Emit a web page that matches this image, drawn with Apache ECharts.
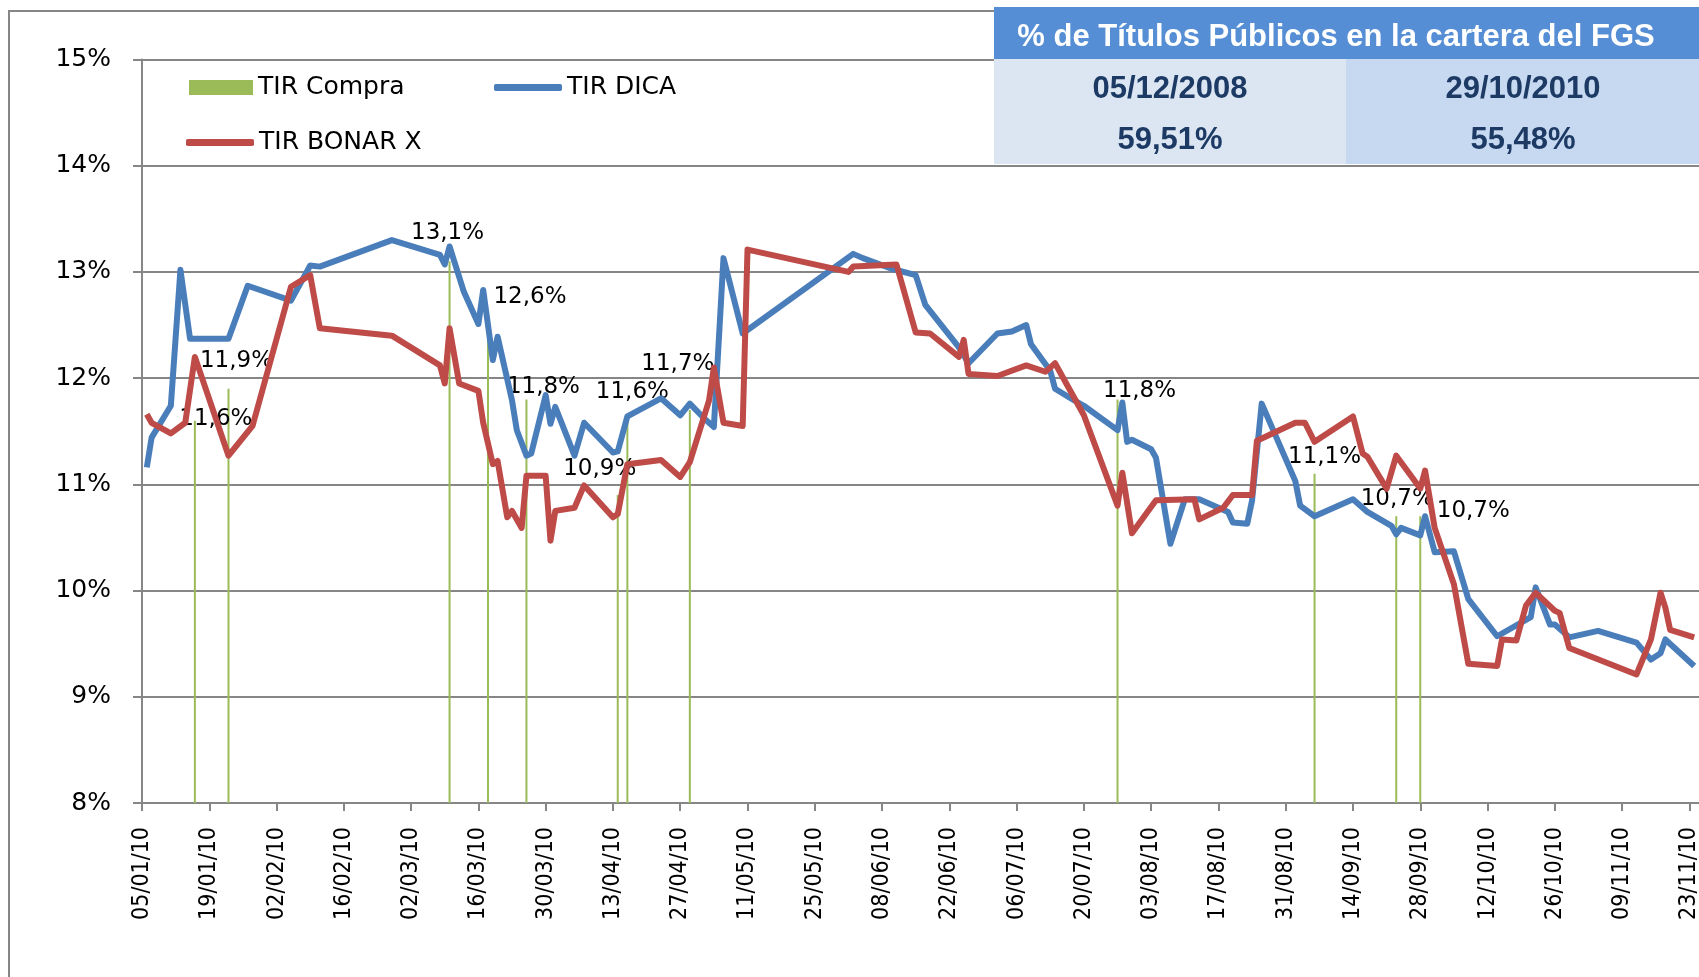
<!DOCTYPE html>
<html>
<head>
<meta charset="utf-8">
<script src="https://cdn.jsdelivr.net/npm/echarts@6/dist/echarts.min.js"></script>
<style>
  html, body { margin: 0; padding: 0; background: #fff; }
  #chart { width: 1699px; height: 977px; }
</style>
</head>
<body>
<div id="chart"></div>
<script>
// Fechas dd/mm (año 2010) y TIR en %
const dicaDates = ['06/01','07/01','11/01','13/01','15/01','23/01','27/01','05/02','09/02','11/02','26/02',
  '08/03','09/03','10/03','13/03','16/03','17/03','19/03','20/03','23/03','24/03','26/03','27/03','30/03','31/03',
  '01/04','05/04','07/04','13/04','14/04','16/04','23/04','27/04','29/04','02/05','04/05','06/05','10/05',
  '02/06','04/06','10/06','15/06','17/06','24/06','26/06','02/07','05/07','08/07','09/07','13/07','14/07','18/07','20/07',
  '27/07','28/07','29/07','30/07','03/08','04/08','07/08','10/08','13/08','19/08','20/08','23/08','24/08','26/08',
  '02/09','03/09','06/09','14/09','17/09','22/09','23/09','24/09','28/09','29/09','01/10','05/10','08/10','14/10',
  '21/10','22/10','25/10','26/10','29/10','04/11','12/11','15/11','17/11','18/11','24/11'];
const dicaValues = [11.16,11.44,11.74,13.02,12.37,12.37,12.87,12.73,13.06,13.05,13.30,
  13.16,13.07,13.24,12.81,12.51,12.83,12.17,12.39,11.79,11.51,11.27,11.29,11.84,11.57,
  11.73,11.27,11.58,11.30,11.31,11.64,11.81,11.65,11.76,11.62,11.54,13.13,12.42,
  13.17,13.13,13.03,12.97,12.69,12.29,12.14,12.42,12.44,12.50,12.32,12.07,11.90,11.79,11.74,
  11.51,11.77,11.40,11.42,11.33,11.25,10.44,10.86,10.86,10.74,10.64,10.63,10.85,11.76,
  11.03,10.80,10.70,10.86,10.74,10.61,10.53,10.59,10.52,10.70,10.36,10.37,9.92,9.57,
  9.75,10.03,9.68,9.68,9.56,9.62,9.51,9.35,9.41,9.54,9.29];

const bonarDates = ['06/01','07/01','11/01','14/01','16/01','23/01','28/01','05/02','09/02','11/02','26/02',
  '08/03','09/03','10/03','12/03','16/03','17/03','19/03','20/03','22/03','23/03','25/03','26/03','30/03','31/03',
  '01/04','05/04','07/04','13/04','14/04','16/04','23/04','27/04','29/04','03/05','04/05','06/05','10/05','11/05',
  '01/06','02/06','11/06','15/06','18/06','24/06','25/06','26/06','02/07','08/07','12/07','14/07','20/07',
  '27/07','28/07','30/07','04/08','12/08','13/08','18/08','20/08','24/08','25/08',
  '02/09','04/09','06/09','14/09','16/09','17/09','21/09','23/09','28/09','29/09','01/10','05/10','08/10',
  '14/10','15/10','18/10','20/10','22/10','26/10','27/10','29/10','12/11','15/11','17/11','18/11','19/11','24/11'];
const bonarValues = [11.66,11.58,11.48,11.58,12.20,11.27,11.55,12.86,12.97,12.47,12.40,
  12.12,11.95,12.47,11.95,11.88,11.58,11.19,11.22,10.69,10.75,10.59,11.08,11.08,10.47,
  10.75,10.78,10.99,10.69,10.72,11.19,11.23,11.07,11.21,11.79,12.10,11.58,11.55,13.21,
  13.00,13.05,13.07,12.43,12.42,12.20,12.36,12.04,12.02,12.12,12.06,12.14,11.65,
  10.80,11.11,10.54,10.85,10.86,10.67,10.78,10.90,10.90,11.41,
  11.58,11.58,11.40,11.64,11.29,11.26,10.96,11.27,10.96,11.13,10.59,10.06,9.31,
  9.29,9.54,9.53,9.86,9.98,9.81,9.79,9.46,9.21,9.54,9.98,9.84,9.63,9.56];

const compraDates = ['16/01','23/01','10/03','18/03','26/03','14/04','16/04','29/04','27/07','06/09','23/09','28/09'];
const compraValues = [11.6, 11.9, 13.1, 12.6, 11.8, 10.9, 11.6, 11.7, 11.8, 11.1, 10.7, 10.7];
// posición de cada etiqueta respecto del extremo de la barra (px)
const compraLabelPos = [[21,-2],[8,-28],[-2,-28],[42,-17],[17,-12],[-18,-26],[5,-29],[-12,-46],[22,-8],[10,-17],[1,-17],[53,-5]];

const tablaTitulo = '% de Títulos Públicos en la cartera del FGS';
const tablaFechas = ['05/12/2008', '29/10/2010'];
const tablaValores = ['59,51%', '55,48%'];

const yTicks = { min: 8, max: 15, step: 1 };

const BASE = Date.UTC(2010, 0, 5);
const DAY = 86400000;
const toDay = s => {
  const [d, m] = s.split('/').map(Number);
  return (Date.UTC(2010, m - 1, d) - BASE) / DAY;
};
const pad = n => String(n).padStart(2, '0');
const dayLabel = v => {
  const dt = new Date(BASE + v * DAY);
  return pad(dt.getUTCDate()) + '/' + pad(dt.getUTCMonth() + 1) + '/' + String(dt.getUTCFullYear()).slice(2);
};

const FONT = 'DejaVu Sans';
const GRAY = '#868686';

const chart = echarts.init(document.getElementById('chart'));

const option = {
  animation: false,
  backgroundColor: '#fff',
  grid: { left: 142, right: 0, top: 59.5, bottom: 174, outerBoundsMode: 'none', containLabel: false },
  legend: [
    { data: ['TIR Compra'], left: 184, top: 70, icon: 'rect', itemWidth: 64, itemHeight: 15, selectedMode: false,
      textStyle: { fontFamily: FONT, fontSize: 25, color: '#000' } },
    { data: ['TIR DICA'], left: 489, top: 70, icon: 'roundRect', itemWidth: 68, itemHeight: 7, selectedMode: false,
      textStyle: { fontFamily: FONT, fontSize: 25, color: '#000' } },
    { data: ['TIR BONAR X'], left: 181, top: 125, icon: 'roundRect', itemWidth: 68, itemHeight: 7, selectedMode: false,
      textStyle: { fontFamily: FONT, fontSize: 25, color: '#000' } }
  ],
  xAxis: {
    type: 'value', min: 0, max: 324, interval: 14,
    axisLine: { show: true, onZero: false, lineStyle: { color: GRAY, width: 2 } },
    axisTick: { show: true, length: 8, lineStyle: { color: GRAY, width: 2 } },
    splitLine: { show: false },
    axisLabel: {
      rotate: 90, margin: 24, fontFamily: '"DejaVu Sans Condensed", "DejaVu Sans"', fontSize: 23, color: '#000', showMaxLabel: false,
      formatter: v => (v % 14 === 0 ? dayLabel(v) : '')
    }
  },
  yAxis: {
    type: 'value', min: yTicks.min, max: yTicks.max, interval: yTicks.step,
    axisLine: { show: true, lineStyle: { color: GRAY, width: 2 } },
    axisTick: { show: true, length: 9, lineStyle: { color: GRAY, width: 2 } },
    splitLine: { show: true, lineStyle: { color: GRAY, width: 2 } },
    axisLabel: { margin: 31, fontFamily: FONT, fontSize: 25, color: '#000', formatter: v => v + '%' }
  },
  series: [
    {
      name: 'TIR Compra', type: 'bar', barWidth: 2, color: '#9BBB59',
      itemStyle: { color: '#9BBB59' },
      label: {
        show: true, align: 'center', verticalAlign: 'middle',
        fontFamily: FONT, fontSize: 23, color: '#000',
        formatter: p => p.value[1].toFixed(1).replace('.', ',') + '%'
      },
      data: compraDates.map((d, i) => ({
        value: [toDay(d), compraValues[i]],
        label: { position: [compraLabelPos[i][0] + 1, compraLabelPos[i][1]] }
      }))
    },
    {
      name: 'TIR DICA', type: 'line', symbol: 'none', color: '#4A7EBB',
      lineStyle: { color: '#4A7EBB', width: 6, join: 'round' },
      data: dicaDates.map((d, i) => [toDay(d), dicaValues[i]])
    },
    {
      name: 'TIR BONAR X', type: 'line', symbol: 'none', color: '#BE4B48',
      lineStyle: { color: '#BE4B48', width: 6, join: 'round' },
      data: bonarDates.map((d, i) => [toDay(d), bonarValues[i]])
    }
  ],
  graphic: [
    // marco del gráfico
    { type: 'polyline', z: 50, shape: { points: [[9, 977], [9, 11], [1699, 11]] }, style: { stroke: GRAY, lineWidth: 2, fill: null } },
    // tabla
    { type: 'rect', z: 60, shape: { x: 994, y: 7, width: 705, height: 52 }, style: { fill: '#558ED5' } },
    { type: 'rect', z: 60, shape: { x: 994, y: 59, width: 352, height: 105 }, style: { fill: '#DCE6F2' } },
    { type: 'rect', z: 60, shape: { x: 1346, y: 59, width: 353, height: 105 }, style: { fill: '#C6D9F1' } },
    { type: 'text', z: 61, x: 1336, y: 37, style: { text: tablaTitulo, fill: '#fff', font: 'bold 31px "Liberation Sans"', align: 'center', verticalAlign: 'middle' } },
    { type: 'text', z: 61, x: 1170, y: 89, style: { text: tablaFechas[0], fill: '#1c3a64', font: 'bold 31px "Liberation Sans"', align: 'center', verticalAlign: 'middle' } },
    { type: 'text', z: 61, x: 1523, y: 89, style: { text: tablaFechas[1], fill: '#1c3a64', font: 'bold 31px "Liberation Sans"', align: 'center', verticalAlign: 'middle' } },
    { type: 'text', z: 61, x: 1170, y: 140, style: { text: tablaValores[0], fill: '#1c3a64', font: 'bold 31px "Liberation Sans"', align: 'center', verticalAlign: 'middle' } },
    { type: 'text', z: 61, x: 1523, y: 140, style: { text: tablaValores[1], fill: '#1c3a64', font: 'bold 31px "Liberation Sans"', align: 'center', verticalAlign: 'middle' } }
  ]
};

chart.setOption(option);
window.addEventListener('resize', () => chart.resize());
</script>
</body>
</html>
